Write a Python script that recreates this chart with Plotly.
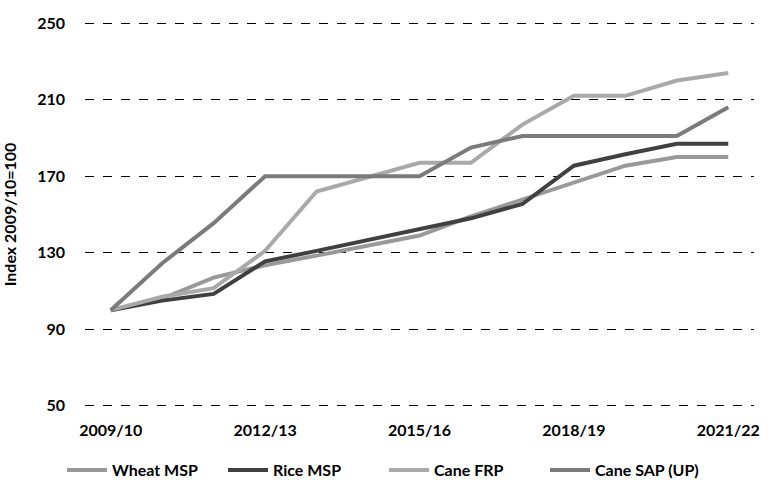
import plotly.graph_objects as go

years = ["2009/10", "2010/11", "2011/12", "2012/13", "2013/14", "2014/15", "2015/16",
         "2016/17", "2017/18", "2018/19", "2019/20", "2020/21", "2021/22"]
wheat_msp = [100, 106, 117, 123.5, 128.5, 133.5, 139, 149, 158, 167, 175.5, 180, 180]
rice_msp = [100, 105, 108.5, 125.5, 131, 136.5, 142, 148, 155.5, 175.5, 181.5, 187, 187]
cane_frp = [100, 107, 111.5, 131, 162, 169.5, 177, 177, 197, 212, 212, 220, 224]
cane_sap = [100, 124.5, 145.5, 170, 170, 170, 170, 185, 191, 191, 191, 191, 206]
tick_years = ["2009/10", "2012/13", "2015/16", "2018/19", "2021/22"]
y_ticks = [50, 90, 130, 170, 210, 250]

series = [
    ("Wheat MSP", wheat_msp, "#999999"),
    ("Rice MSP", rice_msp, "#404040"),
    ("Cane FRP", cane_frp, "#a9a9a9"),
    ("Cane SAP (UP)", cane_sap, "#7b7b7b"),
]

fig = go.Figure()
for name, vals, col in series:
    fig.add_trace(go.Scatter(x=years, y=vals, name=name, mode="lines",
                             line=dict(color=col, width=4)))

font_family = "Lato, 'Open Sans', sans-serif"
bold = dict(family=font_family, size=16, color="black", weight="bold")
fig.update_layout(
    width=774, height=500,
    margin=dict(l=85, r=20, t=22, b=93, autoexpand=False),
    plot_bgcolor="white", paper_bgcolor="white",
    font=bold,
    showlegend=True,
    legend=dict(orientation="h", x=62 / 774, xanchor="left", xref="container",
                y=1 - 470 / 500, yanchor="middle", yref="container",
                font=bold, itemwidth=40, tracegroupgap=0,
                entrywidth=106, entrywidthmode="pixels"),
    xaxis=dict(type="category", range=[-0.5, 12.5], tickmode="array",
               tickvals=tick_years, ticktext=tick_years, showgrid=False,
               showline=False, zeroline=False, ticks="",
               ticklabelstandoff=12, tickfont=bold),
    yaxis=dict(range=[49.4, 250.6], tickmode="array", tickvals=y_ticks,
               showgrid=True, gridcolor="black", griddash="dash", gridwidth=1,
               zeroline=False, showline=False, ticks="", ticklabelstandoff=19,
               tickfont=bold,
               title=dict(text="Index 2009/10=100", standoff=16, font=bold)),
)

fig.write_html("out.html", config={"displayModeBar": False},
               post_script="document.body.style.margin='0';document.body.style.overflow='hidden';")
